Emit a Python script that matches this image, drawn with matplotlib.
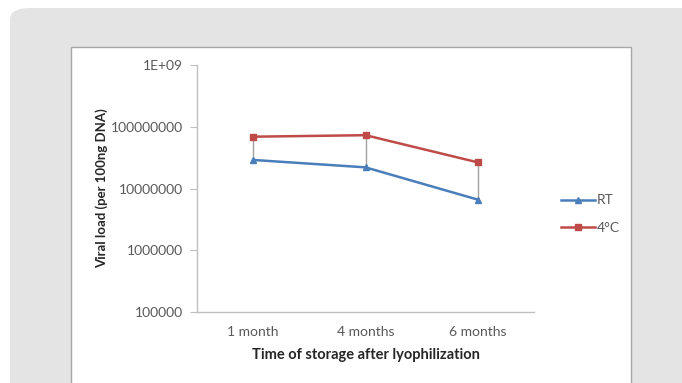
# Package Import
import matplotlib
matplotlib.use('Agg')
import matplotlib.pyplot as plt
from matplotlib.patches import FancyBboxPatch, Rectangle
from matplotlib.ticker import FixedLocator, FixedFormatter, NullLocator

# Data
categories = ['1 month', '4 months', '6 months']
rt_values = [2.9e7, 2.2e7, 6.6e6]
cold_values = [6.9e7, 7.3e7, 2.65e7]
y_ticks = [1e5, 1e6, 1e7, 1e8, 1e9]
y_tick_labels = ['100000', '1000000', '10000000', '100000000', '1E+09']

# Colours
blue = '#4a7ebb'
red = '#be4b48'
text_grey = '#595959'
axis_grey = '#bfbfbf'

plt.rcParams['font.family'] = ['Lato', 'DejaVu Sans']

fig = plt.figure(figsize=(6.82, 3.83), dpi=100)
fig.patch.set_facecolor('white')
W, H = 682, 383

# Grey rounded panel and white chart box behind the axes
panel = FancyBboxPatch((10 / W, -0.2), 1.2, 1.2 - 8 / H,
                       boxstyle='round,pad=0,rounding_size=0.03',
                       transform=fig.transFigure, facecolor='#e4e4e4',
                       edgecolor='none', zorder=0)
fig.patches.append(panel)
chart_box = Rectangle((71 / W, -0.1), (631 - 71) / W, 1.1 - 47 / H,
                      transform=fig.transFigure, facecolor='white',
                      edgecolor='#a6a6a6', linewidth=1.0, zorder=1)
fig.patches.append(chart_box)

ax = fig.add_axes([197 / W, 1 - 312 / H, (534 - 197) / W, (312 - 65) / H])
ax.set_facecolor('none')
ax.set_zorder(2)

x = list(range(len(categories)))

# Error bars (grey connectors)
ax.vlines(x, rt_values, cold_values, colors='#a0a0a0', linewidth=1.0, zorder=2)

ax.plot(x, rt_values, color=blue, linewidth=1.8, marker='^', markersize=5,
        label='RT', zorder=3)
ax.plot(x, cold_values, color=red, linewidth=1.8, marker='s', markersize=5,
        label='4°C', zorder=3)

# Axes
ax.set_yscale('log')
ax.set_ylim(1e5, 1e9)
ax.set_xlim(-0.5, len(categories) - 0.5)
ax.yaxis.set_major_locator(FixedLocator(y_ticks))
ax.yaxis.set_major_formatter(FixedFormatter(y_tick_labels))
ax.yaxis.set_minor_locator(NullLocator())
ax.set_xticks(x)
ax.set_xticklabels(categories)

for side in ['top', 'right']:
    ax.spines[side].set_visible(False)
for side in ['left', 'bottom']:
    ax.spines[side].set_color(axis_grey)
    ax.spines[side].set_linewidth(1.0)

ax.tick_params(axis='y', which='major', length=5, color=axis_grey,
               labelsize=10, labelcolor=text_grey, pad=5)
ax.tick_params(axis='x', which='major', length=0, labelsize=10,
               labelcolor=text_grey, pad=10)

ax.set_ylabel('Viral load (per 100ng DNA)', fontsize=9.5, fontweight='bold',
              color='#262626', labelpad=2)
ax.set_xlabel('Time of storage after lyophilization', fontsize=10.5,
              fontweight='bold', color='#262626', labelpad=7)

# Legend
fig.legend(loc='center left', bbox_to_anchor=(555 / W, 1 - 214 / H),
           frameon=False, fontsize=10, labelcolor=text_grey,
           handlelength=2.5, handletextpad=0.1, labelspacing=1.1,
           borderaxespad=0)

fig.savefig('out.png', dpi=100)
plt.close()
